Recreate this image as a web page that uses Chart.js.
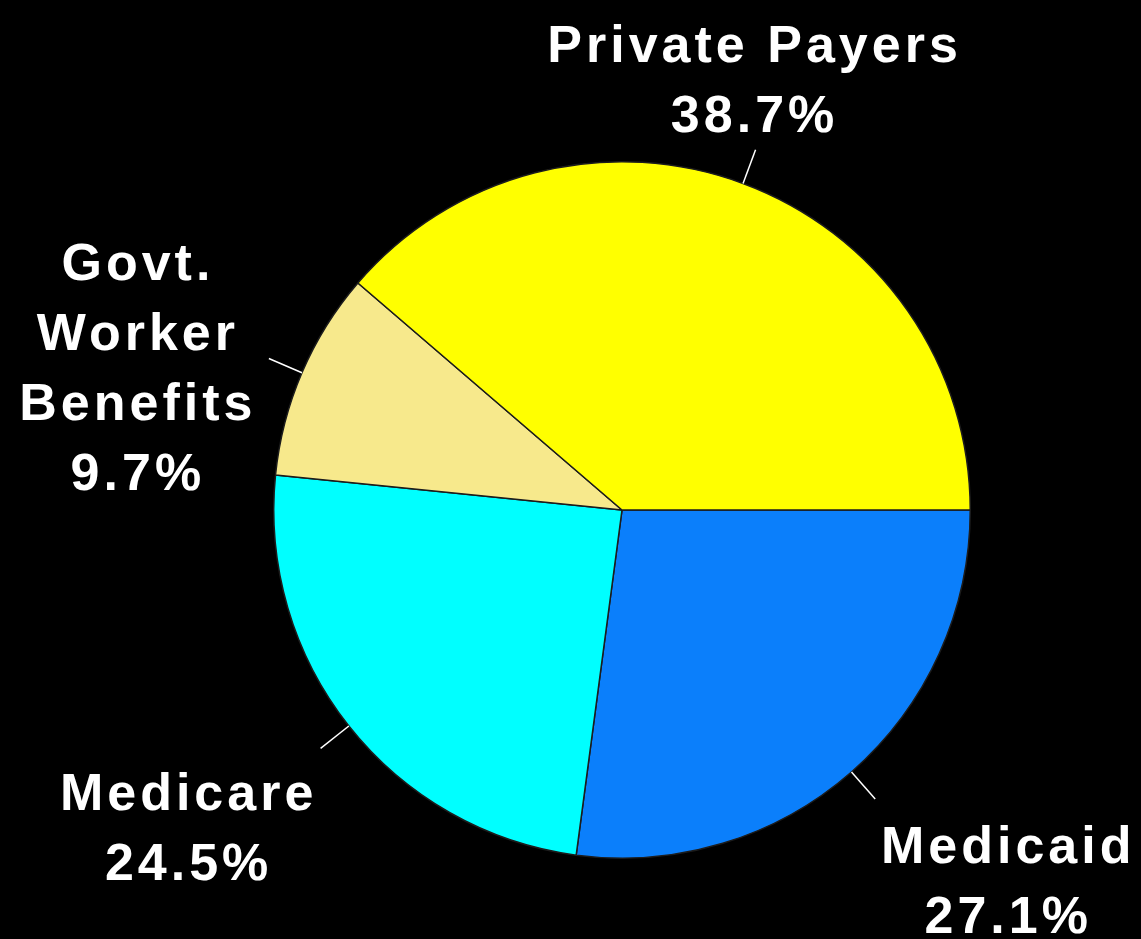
<!DOCTYPE html>
<html>
<head>
<meta charset="utf-8">
<title>Health care payers</title>
<script src="https://cdn.jsdelivr.net/npm/chart.js@4"></script>
<style>
  html, body { margin: 0; padding: 0; background: #000; }
  #wrap { width: 1141px; height: 939px; position: relative; }
</style>
</head>
<body>
<div id="wrap"><canvas id="payerChart"></canvas></div>
<script>
// --- Data (clockwise from 3 o'clock) ---
const payers = ['Medicaid', 'Medicare', 'Govt. Worker Benefits', 'Private Payers'];
const shares = [27.1, 24.5, 9.7, 38.7];
const labelLines = [
    ['Medicaid', '27.1%'],
    ['Medicare', '24.5%'],
    ['Govt.', 'Worker', 'Benefits', '9.7%'],
    ['Private Payers', '38.7%']
];
const sliceColors = ['#0b7ffb', '#00ffff', '#f7e98c', '#ffff00'];

// where each label block sits, relative to the end of its leader line
const labelOffsets = [[131, 64], [-134, 62], [-133, -79], [-3, -88]];
const LEADER_LEN = 36;
const LINE_HEIGHT = 70;

// --- Plugin: leader lines + multi-line labels ---
const outsideLabels = {
    id: 'outsideLabels',
    afterDatasetsDraw(chart) {
        const ctx = chart.ctx;
        const arcs = chart.getDatasetMeta(0).data;
        ctx.save();
        ctx.strokeStyle = '#ffffff';
        ctx.fillStyle = '#ffffff';
        ctx.lineWidth = 1.5;
        ctx.font = 'bold 52px "Liberation Sans", Arial, sans-serif';
        ctx.letterSpacing = '4px';
        ctx.textAlign = 'center';
        ctx.textBaseline = 'alphabetic';
        arcs.forEach((arc, i) => {
            const { x, y, startAngle, endAngle, outerRadius } = arc.getProps(['x', 'y', 'startAngle', 'endAngle', 'outerRadius'], true);
            const mid = (startAngle + endAngle) / 2;
            const cos = Math.cos(mid), sin = Math.sin(mid);
            const x0 = x + cos * outerRadius, y0 = y + sin * outerRadius;
            const x1 = x + cos * (outerRadius + LEADER_LEN), y1 = y + sin * (outerRadius + LEADER_LEN);
            ctx.beginPath();
            ctx.moveTo(x0, y0);
            ctx.lineTo(x1, y1);
            ctx.stroke();
            const [dx, dy] = labelOffsets[i];
            labelLines[i].forEach((line, k) => {
                ctx.fillText(line, x1 + dx + 2, y1 + dy + k * LINE_HEIGHT);
            });
        });
        ctx.restore();
    }
};

const ctx = document.getElementById('payerChart').getContext('2d');
new Chart(ctx, {
    type: 'pie',
    data: {
        labels: payers,
        datasets: [{
            data: shares,
            backgroundColor: sliceColors,
            borderColor: '#1c1c1c',
            borderWidth: 1.5
        }]
    },
    options: {
        responsive: true,
        maintainAspectRatio: false,
        animation: false,
        rotation: 90,
        layout: { padding: { left: 273, right: 170, top: 161, bottom: 80 } },
        plugins: {
            legend: { display: false },
            tooltip: { enabled: false }
        }
    },
    plugins: [outsideLabels]
});
</script>
</body>
</html>
